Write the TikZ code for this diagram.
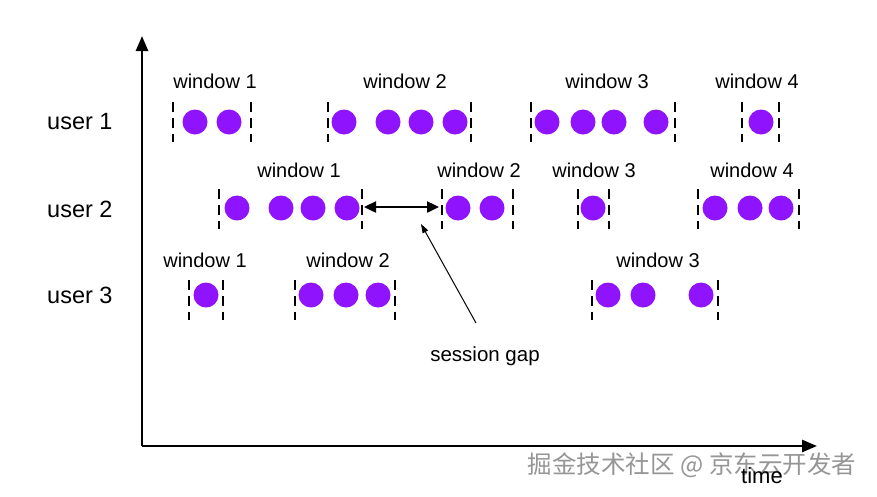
\documentclass[tikz,border=0pt]{standalone}
\usepackage{fontspec}
\setmainfont{Liberation Sans}
\newfontfamily\cjkfont{Noto Sans CJK SC}
\usetikzlibrary{arrows.meta}
\definecolor{dotpurple}{RGB}{144,19,254}
\definecolor{wmgray}{RGB}{150,150,150}
\begin{document}
\begin{tikzpicture}[x=1pt,y=-1pt,
  dotn/.style={circle,fill=dotpurple,minimum size=25pt,inner sep=0pt,draw=none},
  winedge/.style={line width=2.6pt,dash pattern=on 10pt off 6pt},
  winlabel/.style={font=\fontsize{20}{24}\selectfont,inner sep=0pt,anchor=center},
  userlabel/.style={font=\fontsize{23.5}{28}\selectfont,inner sep=0pt,anchor=west},
  axis/.style={line width=2.6pt,-{Triangle[length=15pt,width=12pt]}}]
\useasboundingbox (0,0) rectangle (877,496);
\fill[white] (0,0) rectangle (877,496);

% axes
\coordinate (origin) at (142,446);
\coordinate (ytop) at (142,36);
\coordinate (xend) at (817,446);
\draw[axis] (origin) -- (ytop);
\draw[axis] (origin) -- (xend);

% watermark
\node[font=\cjkfont\fontsize{24.5}{28}\selectfont,text=wmgray,inner sep=0pt,anchor=center] (wm) at (692,465) {掘金技术社区 @ 京东云开发者};
\node[font=\fontsize{22}{26}\selectfont,inner sep=0pt,anchor=center] (timelbl) at (762,476) {time};

% user labels
\node[userlabel] (user1) at (47,122) {user 1};
\node[userlabel] (user2) at (47,209) {user 2};
\node[userlabel] (user3) at (47,295) {user 3};

% ---------- user 1 (y = 122) ----------
\node[winlabel] (u1l1) at (215,81) {window 1};
\draw[winedge] (173,102) -- (173,142);
\draw[winedge] (251,102) -- (251,142);
\node[dotn] (u1a) at (195,122) {};
\node[dotn] (u1b) at (229,122) {};

\node[winlabel] (u1l2) at (405,81) {window 2};
\draw[winedge] (328,102) -- (328,142);
\draw[winedge] (471,102) -- (471,142);
\node[dotn] (u1c) at (344,122) {};
\node[dotn] (u1d) at (388,122) {};
\node[dotn] (u1e) at (421,122) {};
\node[dotn] (u1f) at (455,122) {};

\node[winlabel] (u1l3) at (607,81) {window 3};
\draw[winedge] (531,102) -- (531,142);
\draw[winedge] (675,102) -- (675,142);
\node[dotn] (u1g) at (547,122) {};
\node[dotn] (u1h) at (583,122) {};
\node[dotn] (u1i) at (614,122) {};
\node[dotn] (u1j) at (656,122) {};

\node[winlabel] (u1l4) at (757,81) {window 4};
\draw[winedge] (742,102) -- (742,142);
\draw[winedge] (779,102) -- (779,142);
\node[dotn] (u1k) at (761,122) {};

% ---------- user 2 (y = 208) ----------
\node[winlabel] (u2l1) at (299,170) {window 1};
\draw[winedge] (219,189) -- (219,229);
\draw[winedge] (362,189) -- (362,229);
\node[dotn] (u2a) at (237,208) {};
\node[dotn] (u2b) at (281,208) {};
\node[dotn] (u2c) at (313,208) {};
\node[dotn] (u2d) at (347,208) {};

\node[winlabel] (u2l2) at (479,170) {window 2};
\draw[winedge] (442,189) -- (442,229);
\draw[winedge] (513,189) -- (513,229);
\node[dotn] (u2e) at (458,208) {};
\node[dotn] (u2f) at (492,208) {};

\node[winlabel] (u2l3) at (594,170) {window 3};
\draw[winedge] (578,189) -- (578,229);
\draw[winedge] (609,189) -- (609,229);
\node[dotn] (u2g) at (593,208) {};

\node[winlabel] (u2l4) at (752,170) {window 4};
\draw[winedge] (698,189) -- (698,229);
\draw[winedge] (799,189) -- (799,229);
\node[dotn] (u2h) at (715,208) {};
\node[dotn] (u2i) at (750,208) {};
\node[dotn] (u2j) at (781,208) {};

% session gap double arrow
\coordinate (gapL) at (364,207);
\coordinate (gapR) at (439,207);
\draw[line width=2.4pt,{Triangle[length=12pt,width=11pt]}-{Triangle[length=12pt,width=11pt]}] (gapL) -- (gapR);

% ---------- user 3 (y = 295) ----------
\node[winlabel] (u3l1) at (205,260) {window 1};
\draw[winedge] (189,280) -- (189,320);
\draw[winedge] (223,280) -- (223,320);
\node[dotn] (u3a) at (206,295) {};

\node[winlabel] (u3l2) at (348,260) {window 2};
\draw[winedge] (295,280) -- (295,320);
\draw[winedge] (395,280) -- (395,320);
\node[dotn] (u3b) at (311,295) {};
\node[dotn] (u3c) at (346,295) {};
\node[dotn] (u3d) at (378,295) {};

\node[winlabel] (u3l3) at (658,260) {window 3};
\draw[winedge] (592,280) -- (592,320);
\draw[winedge] (718,280) -- (718,320);
\node[dotn] (u3e) at (608,295) {};
\node[dotn] (u3f) at (643,295) {};
\node[dotn] (u3g) at (701,295) {};

% session gap label and pointer
\node[font=\fontsize{20.5}{24}\selectfont,inner sep=0pt,anchor=center] (gaplbl) at (485,356) {session gap};
\coordinate (gaptip) at (421,224);
\coordinate (gaptail) at (476,323);
\draw[line width=1pt,-{Triangle[length=9pt,width=6pt]}] (gaptail) -- (gaptip);
\end{tikzpicture}
\end{document}
